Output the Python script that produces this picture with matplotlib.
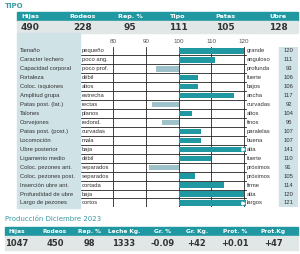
import matplotlib
import matplotlib.pyplot as plt
from matplotlib.patches import Rectangle

matplotlib.use('Agg')

# data
top_headers = ['Hijas', 'Rodeos', 'Rep. %', 'Tipo', 'Patas', 'Ubre']
top_values = ['490', '228', '95', '111', '105', '128']

traits = ['Tamaño', 'Caracter lechero', 'Capacidad corporal', 'Fortaleza',
          'Coloc. isquiones', 'Amplitud grupa', 'Patas post. (lat.)', 'Talones',
          'Corvejones', 'Patas post. (post.)', 'Locomoción', 'Ubre posterior',
          'Ligamento medio', 'Coloc. pezones ant.', 'Coloc. pezones post.',
          'Inserción ubre ant.', 'Profundidad de ubre', 'Largo de pezones']
low_desc = ['pequeño', 'poco ang.', 'poco prof.', 'débil', 'altos', 'estrecha',
            'rectas', 'planos', 'redond.', 'curvadas', 'mala', 'baja', 'débil',
            'separados', 'separados', 'cortada', 'baja', 'cortos']
high_desc = ['grande', 'anguloso', 'profunda', 'fuerte', 'bajos', 'ancha',
             'curvadas', 'altos', 'finos', 'paralelas', 'buena', 'alta', 'fuerte',
             'próximos', 'próximos', 'firme', 'alta', 'largos']
scores = [120, 111, 93, 106, 106, 117, 92, 104, 95, 107, 107, 141, 110, 91, 105,
          114, 120, 121]
ticks = [80, 90, 100, 110, 120]

prod_headers = ['Hijas', 'Rodeos', 'Rep. %', 'Leche Kg.', 'Gr. %', 'Gr. Kg.',
                'Prot. %', 'Prot.Kg']
prod_values = ['1047', '450', '98', '1333', '-0.09', '+42', '+0.01', '+47']

teal = '#1f98a1'
light = '#9fc1c9'
pale = '#cfe2e6'
band = '#e1e6e7'
dark = '#333333'
narrow = ['Liberation Sans', 'DejaVu Sans']

W, H = 300, 254
fig = plt.figure(figsize=(W / 100, H / 100), dpi=100)


def fx(x):
    return x / W


def fy(y):
    return 1 - y / H


def box(x0, y0, x1, y1, color):
    fig.patches.append(Rectangle((fx(x0), fy(y1)), fx(x1 - x0), (y1 - y0) / H,
                                 transform=fig.transFigure, color=color, zorder=0))


# top summary table
fig.text(fx(5), fy(5.5), 'TIPO', color='#3a9aa3', fontsize=5, va='center',
         fontweight='bold')
box(17, 12, 298, 21, teal)
box(17, 21, 298, 33, band)
top_x = [30, 83, 130, 178, 225, 278]
for x, h, v in zip(top_x, top_headers, top_values):
    fig.text(fx(x), fy(16.5), h, color='white', fontsize=4.6, ha='center',
             va='center', fontweight='bold')
    fig.text(fx(x), fy(27.5), v, color=dark, fontsize=6.5, ha='center',
             va='center', fontweight='bold')

# left label column
box(17, 33, 80, 208, pale)

# main bar axes: px 80..298 wide, 80 at px 113, 120 at px 244
ppu = (244 - 113) / 40
x_lo = 80 - (113 - 80) / ppu
x_hi = 120 + (298 - 244) / ppu
top_px, row_h = 46.5, 8.94
n = len(traits)
ax = fig.add_axes([fx(80), fy(top_px + n * row_h), fx(298 - 80), n * row_h / H])
ax.set_xlim(x_lo, x_hi)
ax.set_ylim(n - 0.5, -0.5)
for s in ax.spines.values():
    s.set_visible(False)
ax.set_yticks([])
ax.xaxis.tick_top()
ax.set_xticks(ticks)
ax.set_xticklabels([str(t) for t in ticks], fontsize=4.5, color='#555555',
                   family=narrow)
ax.tick_params(axis='x', length=0, pad=1.5)

val_lo = 120 + (279 - 244) / ppu
ax.axvspan(val_lo, x_hi, color=pale, zorder=0)

cap = 120.6
for i, v in enumerate(scores):
    end = min(v, cap)
    c = teal if v >= 100 else light
    ax.barh(i, end - 100, left=100, height=0.6, color=c, zorder=2)
    if v > 120:
        ax.plot(end - 0.8, i, marker='>', color='white', markersize=2.2, zorder=3)
    ax.text(x_lo + 0.5, i, low_desc[i], fontsize=4.2, va='center', ha='left',
            family=narrow, color=dark)
    ax.text(120 + 0.8, i, high_desc[i], fontsize=4.2, va='center', ha='left',
            family=narrow, color=dark)
    ax.text((val_lo + x_hi) / 2, i, str(v), fontsize=4.2, va='center', ha='center',
            family=narrow, color=dark)
    fig.text(fx(20), fy(top_px + (i + 0.5) * row_h), traits[i], fontsize=4.2,
             va='center', ha='left', family=narrow, color=dark)

for i in range(n):
    ax.plot([x_lo, 120.5], [i + 0.5, i + 0.5], color='#222222', lw=0.6, zorder=1)
for t in ticks:
    ax.axvline(t, color='#222222', lw=0.6, zorder=1)
ax.axvline(x_lo + 0.1, color='#222222', lw=0.6, zorder=1)

# production table
fig.text(fx(5), fy(219), 'Producción Diciembre 2023', color='#3a9aa3',
         fontsize=5, va='center')
box(5, 227, 298, 236, teal)
box(5, 236, 298, 250, band)
prod_x = [17, 55, 89, 124, 163, 197, 235, 273]
for x, h, v in zip(prod_x, prod_headers, prod_values):
    fig.text(fx(x), fy(231.5), h, color='white', fontsize=4.2, ha='center',
             va='center', fontweight='bold')
    fig.text(fx(x), fy(243), v, color=dark, fontsize=6, ha='center',
             va='center', fontweight='bold')

fig.savefig('out.png', dpi=100)
